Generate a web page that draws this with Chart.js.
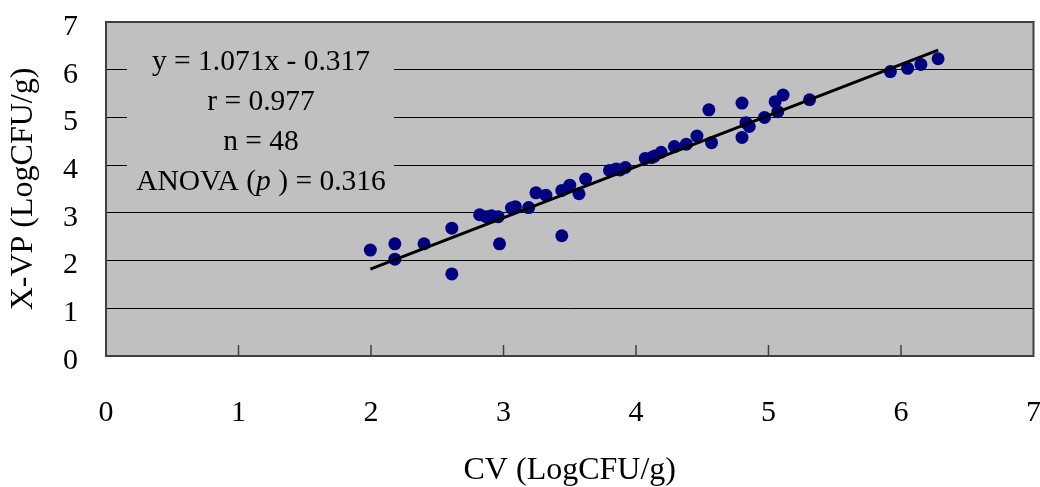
<!DOCTYPE html>
<html>
<head>
<meta charset="utf-8">
<script src="https://cdn.jsdelivr.net/npm/chart.js@4/dist/chart.umd.min.js"></script>
<style>
  html, body { margin: 0; padding: 0; background: #fff; }
  #wrap { width: 1040px; height: 487px; }
</style>
</head>
<body>
<div id="wrap"><canvas id="scatterChart" width="1040" height="487"></canvas></div>
<script>
// valores (LogCFU/g)
const cvValues = [1.995, 2.18, 2.18, 2.40, 2.61, 2.61, 2.82, 2.87, 2.91, 2.91, 2.96, 2.97,
    3.06, 3.09, 3.19, 3.245, 3.32, 3.44, 3.44, 3.50, 3.57, 3.62,
    3.80, 3.85, 3.88, 3.92, 4.07, 4.12, 4.14, 4.19, 4.29, 4.38, 4.46, 4.55, 4.57,
    4.80, 4.80, 4.83, 4.855, 4.97, 5.05, 5.07, 5.11, 5.31, 5.92, 6.05, 6.15, 6.28];
const xvpValues = [2.22, 2.35, 2.03, 2.35, 2.68, 1.72, 2.96, 2.92, 2.94, 2.92, 2.92, 2.35,
    3.10, 3.13, 3.11, 3.42, 3.37, 3.47, 2.52, 3.58, 3.40, 3.71,
    3.89, 3.92, 3.90, 3.95, 4.14, 4.16, 4.19, 4.27, 4.39, 4.44, 4.61, 5.16, 4.47,
    5.30, 4.58, 4.89, 4.81, 5.00, 5.33, 5.12, 5.47, 5.37, 5.96, 6.03, 6.11, 6.23];
const slope = 1.071;
const intercept = -0.317;
const statsLines = ['y = 1.071x - 0.317', 'r = 0.977', 'n = 48', 'ANOVA (p ) = 0.316'];
const xTitle = 'CV (LogCFU/g)';
const yTitle = 'X-VP (LogCFU/g)';

const serif = '"Liberation Serif", "Times New Roman", serif';

document.addEventListener('DOMContentLoaded', function() {
    const ctx = document.getElementById('scatterChart').getContext('2d');

    const points = cvValues.map((x, i) => ({ x: x, y: xvpValues[i] }));
    const xMin = Math.min(...cvValues);
    const xMax = Math.max(...cvValues);
    const trend = [xMin, xMax].map(x => ({ x: x, y: slope * x + intercept }));

    // fundo cinza, caixa de estatísticas, bordas e ticks internos do eixo x
    const plotDecor = {
        id: 'plotDecor',
        beforeDraw(chart) {
            const a = chart.chartArea;
            const c = chart.ctx;
            c.save();
            c.fillStyle = '#c0c0c0';
            c.fillRect(a.left, a.top, a.right - a.left, a.bottom - a.top);
            c.restore();
        },
        beforeDatasetsDraw(chart) {
            const a = chart.chartArea;
            const c = chart.ctx;
            const xs = chart.scales.x;
            c.save();
            // caixa do texto
            c.fillStyle = '#c0c0c0';
            c.fillRect(a.left + 21, a.top + 14, 267, 164);
            // texto
            c.fillStyle = '#000';
            c.textAlign = 'center';
            c.textBaseline = 'alphabetic';
            const cx = a.left + 155;
            statsLines.forEach((line, i) => {
                const by = a.top + 48 + i * 40;
                if (line.indexOf('(p )') >= 0) {
                    const parts = line.split('p');
                    c.font = '29.5px ' + serif;
                    const w1 = c.measureText(parts[0]).width;
                    const w3 = c.measureText(parts[1]).width;
                    c.font = 'italic 29.5px ' + serif;
                    const w2 = c.measureText('p').width;
                    let x0 = cx - (w1 + w2 + w3) / 2;
                    c.textAlign = 'left';
                    c.font = '29.5px ' + serif;
                    c.fillText(parts[0], x0, by);
                    c.font = 'italic 29.5px ' + serif;
                    c.fillText('p', x0 + w1, by);
                    c.font = '29.5px ' + serif;
                    c.fillText(parts[1], x0 + w1 + w2, by);
                    c.textAlign = 'center';
                } else {
                    c.font = '29.5px ' + serif;
                    c.fillText(line, cx, by);
                }
            });
            // ticks internos
            c.strokeStyle = '#404040';
            c.lineWidth = 1.5;
            xs.ticks.forEach(t => {
                const px = xs.getPixelForValue(t.value);
                if (px <= a.left + 1 || px >= a.right - 1) return;
                c.beginPath();
                c.moveTo(px, a.bottom);
                c.lineTo(px, a.bottom - 11);
                c.stroke();
            });
            // borda da área
            c.strokeStyle = '#404040';
            c.lineWidth = 2;
            c.strokeRect(a.left, a.top, a.right - a.left, a.bottom - a.top);
            c.restore();
        }
    };

    new Chart(ctx, {
        type: 'scatter',
        data: {
            datasets: [{
                type: 'line',
                label: 'Regressão',
                data: trend,
                borderColor: '#000',
                borderWidth: 3,
                pointRadius: 0,
                fill: false,
                order: 0
            }, {
                label: 'Amostras',
                data: points,
                backgroundColor: '#000080',
                borderColor: '#000080',
                borderWidth: 0,
                pointRadius: 6.5,
                order: 1
            }]
        },
        options: {
            responsive: false,
            animation: false,
            layout: { padding: { left: 0, top: 22, right: 6, bottom: 0 } },
            plugins: {
                legend: { display: false },
                tooltip: { enabled: false }
            },
            scales: {
                x: {
                    type: 'linear',
                    min: 0,
                    max: 7,
                    border: { display: false },
                    grid: { display: false, drawTicks: false },
                    ticks: {
                        stepSize: 1,
                        padding: 42,
                        maxRotation: 0,
                        color: '#000',
                        font: { family: serif, size: 30, lineHeight: 1 }
                    },
                    title: {
                        display: true,
                        text: xTitle,
                        color: '#000',
                        padding: { top: 0, bottom: 0 },
                        font: { family: serif, size: 32, lineHeight: 1 }
                    },
                    afterFit(scale) {
                        scale.height = 131;
                        scale.paddingLeft = 0;
                        scale.paddingRight = 0;
                    }
                },
                y: {
                    type: 'linear',
                    min: 0,
                    max: 7,
                    border: { display: false },
                    grid: { color: '#000', lineWidth: 1, drawTicks: false },
                    ticks: {
                        stepSize: 1,
                        padding: 28,
                        labelOffset: 5,
                        color: '#000',
                        font: { family: serif, size: 30, lineHeight: 1 }
                    },
                    title: {
                        display: true,
                        text: yTitle,
                        color: '#000',
                        padding: { top: 4, bottom: 0 },
                        font: { family: serif, size: 32, lineHeight: 1.2 }
                    },
                    afterFit(scale) {
                        scale.width = 106;
                        scale.paddingTop = 0;
                        scale.paddingBottom = 0;
                    }
                }
            }
        },
        plugins: [plotDecor]
    });
});
</script>
</body>
</html>
